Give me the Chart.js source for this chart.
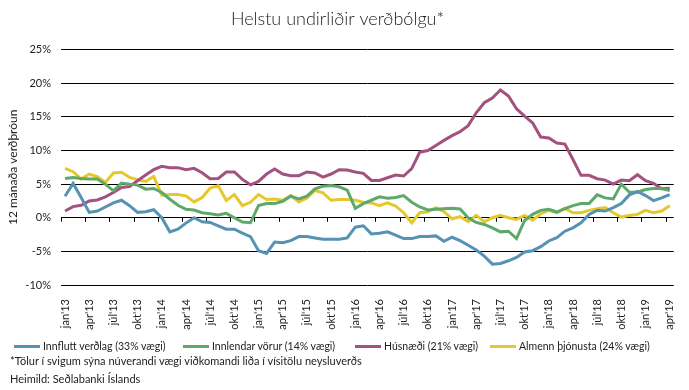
<!DOCTYPE html>
<html>
<head>
<meta charset="utf-8">
<script src="https://cdn.jsdelivr.net/npm/chart.js@4.4.1/dist/chart.umd.min.js"></script>
<style>
  body { margin: 0; background: #fff; }
  #wrap { position: relative; width: 689px; height: 390px; }
  .note { position: absolute; left: 10px; font: 11px Lato, sans-serif; color: #222; white-space: nowrap; }
  .key { position: absolute; top: 339px; height: 14px; font: 10.5px Lato, sans-serif; color: #222; white-space: nowrap; line-height: 14px; }
  .key i { display: inline-block; width: 26px; height: 3px; margin-right: 3px; vertical-align: middle; position: relative; top: -1px; }
</style>
</head>
<body>
<div id="wrap">
  <canvas id="chart" width="689" height="390"></canvas>
  <div id="legend"></div>
  <div class="note" style="top:354px">*Tölur í svigum sýna núverandi vægi viðkomandi liða í vísitölu neysluverðs</div>
  <div class="note" style="top:372px">Heimild: Seðlabanki Íslands</div>
</div>
<script>
"use strict";
const monthNames = ["jan", "feb", "mar", "apr", "maí", "jún", "júl", "ágú", "sep", "okt", "nóv", "des"];
const years = ["13", "14", "15", "16", "17", "18", "19"];
const categories = [];
years.forEach((y) => {
    monthNames.forEach((m) => {
        if (categories.length < 76) categories.push(m + "'" + y);
    });
});

// 12 mánaða breyting, %
const innflutt = [
    3.2, 5.1, 3.0, 0.8, 1.0, 1.6, 2.2, 2.6, 1.8, 0.8, 0.9, 1.2,
    0.0, -2.1, -1.7, -0.8, 0.0, -0.6, -0.7, -1.2, -1.7, -1.7, -2.3, -2.8,
    -4.9, -5.3, -3.6, -3.7, -3.4, -2.8, -2.8, -3.0, -3.2, -3.2, -3.2, -3.0,
    -1.4, -1.2, -2.4, -2.3, -2.1, -2.6, -3.1, -3.1, -2.8, -2.8, -2.7, -3.5,
    -2.9, -3.4, -4.1, -4.8, -5.7, -6.9, -6.8, -6.4, -5.9, -5.1, -4.9, -4.3,
    -3.45, -2.95, -2.0, -1.5, -0.75, 0.5, 1.1, 1.0, 1.5, 2.1, 3.4, 3.9,
    3.3, 2.55, 2.95, 3.45
];
const innlendar = [
    5.85, 6.0, 5.85, 5.75, 5.75, 5.0, 4.0, 5.15, 5.0, 4.85, 4.25, 4.35,
    3.75, 2.75, 1.85, 1.25, 1.15, 0.75, 0.6, 0.4, 0.65, 0.0, -0.65, -0.75,
    1.8, 2.1, 2.1, 2.45, 3.2, 2.8, 3.2, 4.3, 4.7, 4.8, 4.6, 4.1,
    1.4, 2.1, 2.6, 3.1, 2.9, 3.0, 3.3, 2.3, 1.6, 1.15, 1.25, 1.35,
    1.4, 1.3, 0.0, -0.7, -1.0, -1.5, -2.1, -2.0, -3.1, -0.4, 0.5, 1.1,
    1.25, 0.85, 1.35, 1.8, 2.1, 2.1, 3.4, 2.95, 2.8, 5.0, 3.8, 3.8,
    4.2, 4.35, 4.35, 4.05
];
const husnaedi = [
    1.0, 1.65, 1.85, 2.5, 2.65, 3.1, 3.75, 4.5, 4.65, 5.5, 6.35, 7.15,
    7.65, 7.45, 7.45, 7.15, 7.35, 6.7, 5.8, 5.85, 6.8, 6.8, 5.7, 4.9,
    5.4, 6.5, 7.25, 6.5, 6.25, 6.25, 6.8, 6.65, 6.05, 6.5, 7.15, 7.1,
    6.8, 6.6, 5.55, 5.55, 5.95, 6.35, 6.2, 7.3, 9.75, 10.0, 10.75, 11.5,
    12.2, 12.8, 13.7, 15.6, 17.1, 17.8, 19.0, 18.1, 16.2, 15.1, 14.1, 12.0,
    11.85, 11.1, 10.95, 8.65, 6.3, 6.3, 5.8, 5.6, 5.0, 5.6, 5.5, 6.4,
    5.5, 5.1, 4.3, 4.4
];
const thjonusta = [
    7.35, 6.85, 5.75, 6.5, 6.1, 5.25, 6.65, 6.75, 6.0, 5.65, 5.4, 6.15,
    3.35, 3.45, 3.45, 3.25, 2.35, 3.0, 4.4, 4.75, 2.55, 3.45, 1.8, 2.3,
    3.45, 2.7, 2.8, 2.6, 3.3, 2.35, 2.95, 4.05, 3.7, 2.6, 2.7, 2.7,
    2.6, 2.3, 2.2, 1.8, 2.2, 1.75, 0.75, -0.75, 0.75, 0.9, 1.5, 0.9,
    -0.15, 0.15, -0.6, 0.35, -0.6, 0.0, 0.35, 0.0, -0.25, 0.35, -0.35, 0.6,
    1.1, 0.75, 1.4, 0.75, 0.75, 1.1, 1.35, 1.5, 0.75, 0.1, 0.35, 0.5,
    1.1, 0.75, 1.0, 1.8
];

const seriesNames = ["Innflutt verðlag (33% vægi)", "Innlendar vörur (14% vægi)", "Húsnæði (21% vægi)", "Almenn þjónusta (24% vægi)"];
const seriesColors = ["#5592b4", "#5ea86a", "#a3527f", "#e5c82c"];
const legendLeft = [14, 183, 355, 490];

const font = "Lato, sans-serif";
const textColor = "#222";

function line(i, data) {
    return {
        label: seriesNames[i],
        data: data,
        borderColor: seriesColors[i],
        backgroundColor: seriesColors[i],
        borderWidth: 3,
        pointRadius: 0,
        tension: 0,
        fill: false,
    };
}

// legend below the chart
let legendBox = document.querySelector("#legend");
seriesNames.forEach((name, i) => {
    let item = document.createElement("div");
    item.className = "key";
    item.style.left = legendLeft[i] + "px";
    item.innerHTML = '<i style="background:' + seriesColors[i] + '"></i>';
    item.appendChild(document.createTextNode(name));
    legendBox.appendChild(item);
});

// small tick marks on the 0% line, every third month
const zeroTicks = {
    id: "zeroTicks",
    beforeDatasetsDraw(chart) {
        const x = chart.scales.x;
        const y0 = chart.scales.y.getPixelForValue(0);
        const step = (x.right - x.left) / categories.length;
        const ctx = chart.ctx;
        ctx.save();
        ctx.strokeStyle = "#000";
        ctx.lineWidth = 1;
        ctx.beginPath();
        for (let i = 0; i < categories.length; i += 3) {
            const px = Math.round(x.left + step * i) + 0.5;
            ctx.moveTo(px, y0);
            ctx.lineTo(px, y0 + 4);
        }
        ctx.stroke();
        ctx.restore();
    },
};

new Chart(document.querySelector("#chart"), {
    type: "line",
    data: {
        labels: categories,
        datasets: [
            line(0, innflutt),
            line(1, innlendar),
            line(2, husnaedi),
            line(3, thjonusta),
        ],
    },
    options: {
        responsive: false,
        animation: false,
        layout: { padding: { left: 0, right: 14, top: 0, bottom: 58 } },
        plugins: {
            title: {
                display: true,
                text: "Helstu undirliðir verðbólgu*",
                color: textColor,
                font: { family: font, size: 18, weight: "300" },
                padding: { top: 8, bottom: 20 },
            },
            legend: { display: false },
            tooltip: { enabled: false },
        },
        scales: {
            x: {
                offset: true,
                grid: { display: false, offset: true },
                border: { display: false },
                afterFit(s) { s.height = 47; },
                ticks: {
                    autoSkip: false,
                    maxRotation: 90,
                    minRotation: 90,
                    padding: 6,
                    color: textColor,
                    font: { family: font, size: 11 },
                    callback: (v, i) => (i % 3 === 0 ? categories[i] : null),
                },
            },
            y: {
                min: -10,
                max: 25,
                afterFit(s) { s.width = 61; },
                border: { display: false },
                grid: { color: "#000", lineWidth: 1, drawTicks: false },
                title: {
                    display: true,
                    text: "12 mánaða verðþróun",
                    color: textColor,
                    font: { family: font, size: 12 },
                    padding: { top: 6, bottom: 4 },
                },
                ticks: {
                    stepSize: 5,
                    padding: 10,
                    color: textColor,
                    font: { family: font, size: 11 },
                    callback: (v) => v + "%",
                },
            },
        },
    },
    plugins: [zeroTicks],
});
</script>
</body>
</html>
